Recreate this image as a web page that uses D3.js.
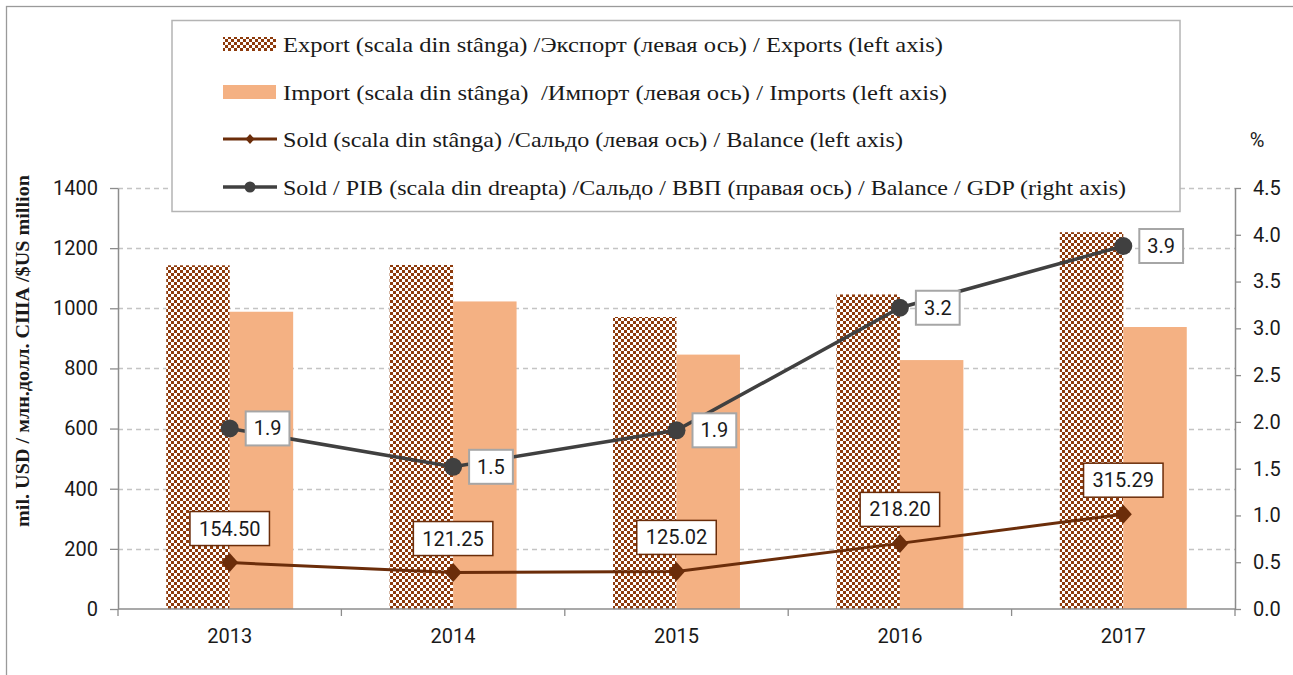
<!DOCTYPE html>
<html>
<head>
<meta charset="utf-8">
<script src="https://cdn.jsdelivr.net/npm/d3@7"></script>
<style>
  html, body { margin: 0; padding: 0; background: #fff; }
  svg { display: block; }
</style>
</head>
<body>
<svg id="chart" width="1293" height="675"></svg>
<script>
// ---------- DATA ----------
const years = ["2013", "2014", "2015", "2016", "2017"];
const exportsVal = [1143, 1144, 971, 1046, 1253];
const importsVal = [988.5, 1022.75, 845.98, 827.8, 937.71];
const balanceVal = [154.50, 121.25, 125.02, 218.20, 315.29];
const balanceGdpVal = [1.93, 1.52, 1.91, 3.22, 3.88];
const leftTicks = [0, 200, 400, 600, 800, 1000, 1200, 1400];
const rightTicks = [0, 0.5, 1.0, 1.5, 2.0, 2.5, 3.0, 3.5, 4.0, 4.5];
const legendLabels = [
  "Export (scala din stânga) /Экспорт (левая ось) / Exports (left axis)",
  "Import (scala din stânga)  /Импорт (левая ось) / Imports (left axis)",
  "Sold (scala din stânga) /Сальдо (левая ось) / Balance (left axis)",
  "Sold / PIB (scala din dreapta) /Сальдо / ВВП (правая ось) / Balance / GDP (right axis)"
];
const yTitle = "mil. USD / млн.долл. США /$US million";
const rightUnit = "%";

// ---------- STYLE ----------
const C = {
  exportBrown: "#8E3B0C",
  importFill: "#F4B183",
  balance: "#6B2D0A",
  ratio: "#404040",
  grid: "#C4C4C4",
  axis: "#8C8C8C",
  text: "#1a1a1a"
};
const numFont = "Roboto, 'Open Sans', sans-serif";
const serifFont = "'Liberation Serif', 'DejaVu Serif', serif";

const svg = d3.select("#chart");
const plot = { left: 118, right: 1235, top: 188, bottom: 609 };

// pattern for export bars
const defs = svg.append("defs");
const pat = defs.append("pattern").attr("id", "chk")
  .attr("patternUnits", "userSpaceOnUse").attr("width", 6).attr("height", 6);
pat.append("rect").attr("width", 6).attr("height", 6).attr("fill", "#fff");
pat.append("rect").attr("x", 0).attr("y", 0).attr("width", 3).attr("height", 3).attr("fill", C.exportBrown);
pat.append("rect").attr("x", 3).attr("y", 3).attr("width", 3).attr("height", 3).attr("fill", C.exportBrown);

// outer frame
svg.append("rect").attr("x", 6.5).attr("y", 6.5).attr("width", 1320).attr("height", 700)
  .attr("fill", "none").attr("stroke", "#9a9a9a").attr("stroke-width", 1.3);

// ---------- SCALES ----------
const x = d3.scaleBand().domain(years).range([plot.left, plot.right]).padding(0);
const xs = d3.scaleBand().domain(["exp", "imp"]).range([0, x.bandwidth()])
  .paddingInner(0).paddingOuter(0.76);
const y = d3.scaleLinear().domain([0, 1400]).range([plot.bottom, plot.top]);
const y2 = d3.scaleLinear().domain([0, 4.5]).range([plot.bottom, plot.top]);

// ---------- GRID ----------
svg.append("g").selectAll("line").data(leftTicks.filter(d => d > 0)).join("line")
  .attr("x1", plot.left).attr("x2", plot.right)
  .attr("y1", d => Math.round(y(d)) + 0.5).attr("y2", d => Math.round(y(d)) + 0.5)
  .attr("stroke", C.grid).attr("stroke-width", 1.3).attr("stroke-dasharray", "5,4");

// ---------- BARS ----------
const rows = years.map((yr, i) => ({ yr, exp: exportsVal[i], imp: importsVal[i], bal: balanceVal[i], r: balanceGdpVal[i] }));
const bars = svg.append("g");
bars.selectAll("rect.exp").data(rows).join("rect").attr("class", "exp")
  .attr("x", d => x(d.yr) + xs("exp")).attr("width", xs.bandwidth())
  .attr("y", d => y(d.exp)).attr("height", d => y(0) - y(d.exp))
  .attr("fill", "url(#chk)");
bars.selectAll("rect.imp").data(rows).join("rect").attr("class", "imp")
  .attr("x", d => x(d.yr) + xs("imp")).attr("width", xs.bandwidth())
  .attr("y", d => y(d.imp)).attr("height", d => y(0) - y(d.imp))
  .attr("fill", C.importFill);

// ---------- AXES ----------
function styleAxis(g) {
  g.selectAll(".domain").attr("stroke", C.axis).attr("stroke-width", 1.5);
  g.selectAll(".tick line").attr("stroke", C.axis).attr("stroke-width", 1.3);
  g.selectAll(".tick text").attr("fill", C.text).style("font-family", numFont).style("font-size", "20px");
}
const gl = svg.append("g").attr("transform", `translate(${plot.left},0)`)
  .call(d3.axisLeft(y).tickValues(leftTicks).tickSize(8).tickPadding(12).tickSizeOuter(0).tickFormat(d3.format("d")));
styleAxis(gl);
const gr = svg.append("g").attr("transform", `translate(${plot.right},0)`)
  .call(d3.axisRight(y2).tickValues(rightTicks).tickSize(6).tickPadding(12).tickSizeOuter(0).tickFormat(d3.format(".1f")));
styleAxis(gr);
const gx = svg.append("g").attr("transform", `translate(0,${plot.bottom})`)
  .call(d3.axisBottom(x).tickSize(0).tickPadding(20));
styleAxis(gx);
gx.select(".domain").attr("d", `M${plot.left},0H${plot.right}`);
// category boundary ticks
const bounds = years.map(d => x(d)).concat([x(years[years.length - 1]) + x.bandwidth()]);
gx.append("g").selectAll("line").data(bounds).join("line")
  .attr("x1", d => d).attr("x2", d => d).attr("y1", 0).attr("y2", 7)
  .attr("stroke", C.axis).attr("stroke-width", 1.3);

// axis titles
svg.append("text").attr("transform", "translate(29,351) rotate(-90)")
  .attr("text-anchor", "middle").attr("fill", C.text)
  .style("font-family", serifFont).style("font-weight", "bold").style("font-size", "19px")
  .attr("textLength", 352).attr("lengthAdjust", "spacingAndGlyphs")
  .text(yTitle);
svg.append("text").attr("x", 1257).attr("y", 147).attr("text-anchor", "middle")
  .attr("fill", C.text).style("font-family", numFont).style("font-size", "20px").text(rightUnit);

// ---------- LINES ----------
const cx = d => x(d.yr) + x.bandwidth() / 2;
svg.append("path").datum(rows)
  .attr("d", d3.line().x(cx).y(d => y(d.bal)))
  .attr("fill", "none").attr("stroke", C.balance).attr("stroke-width", 3);
svg.append("g").selectAll("path").data(rows).join("path")
  .attr("transform", d => `translate(${cx(d)},${y(d.bal)})`)
  .attr("d", "M0,-9.5L8.5,0L0,9.5L-8.5,0Z").attr("fill", C.balance);

svg.append("path").datum(rows)
  .attr("d", d3.line().x(cx).y(d => y2(d.r)))
  .attr("fill", "none").attr("stroke", C.ratio).attr("stroke-width", 3.5);
svg.append("g").selectAll("circle").data(rows).join("circle")
  .attr("cx", cx).attr("cy", d => y2(d.r)).attr("r", 9).attr("fill", C.ratio);

// ---------- DATA LABELS ----------
const fmtBal = d3.format(".2f"), fmtR = d3.format(".1f");
rows.forEach(d => {
  // balance label (above)
  const g = svg.append("g");
  const t = g.append("text").attr("text-anchor", "middle").attr("dominant-baseline", "central")
    .attr("fill", C.text).style("font-family", numFont).style("font-size", "20px")
    .attr("x", cx(d)).attr("y", y(d.bal) - 34).text(fmtBal(d.bal));
  const w = t.node().getComputedTextLength() + 18;
  g.insert("rect", "text").attr("x", cx(d) - w / 2).attr("y", y(d.bal) - 34 - 17)
    .attr("width", w).attr("height", 34).attr("fill", "#fff")
    .attr("stroke", C.balance).attr("stroke-width", 1.5);

  // ratio label (right)
  const g2 = svg.append("g");
  const t2 = g2.append("text").attr("dominant-baseline", "central")
    .attr("fill", C.text).style("font-family", numFont).style("font-size", "20px")
    .attr("x", cx(d) + 16 + 8).attr("y", y2(d.r)).text(fmtR(d.r));
  const w2 = t2.node().getComputedTextLength() + 16;
  g2.insert("rect", "text").attr("x", cx(d) + 16).attr("y", y2(d.r) - 17)
    .attr("width", w2).attr("height", 34).attr("fill", "#fff")
    .attr("stroke", "#a6a6a6").attr("stroke-width", 2);
});

// ---------- LEGEND ----------
const lg = svg.append("g");
lg.append("rect").attr("x", 172).attr("y", 20.5).attr("width", 1008).attr("height", 191)
  .attr("fill", "#fff").attr("stroke", "#b4b4b4").attr("stroke-width", 1.5);
const rowY = [44, 92, 139, 187];
const textW = [660, 664, 620, 843];
lg.append("rect").attr("x", 223).attr("y", rowY[0] - 7).attr("width", 53).attr("height", 14).attr("fill", "url(#chk)");
lg.append("rect").attr("x", 223).attr("y", rowY[1] - 7).attr("width", 53).attr("height", 14).attr("fill", C.importFill);
lg.append("line").attr("x1", 223).attr("x2", 277).attr("y1", rowY[2]).attr("y2", rowY[2])
  .attr("stroke", C.balance).attr("stroke-width", 3);
lg.append("path").attr("transform", `translate(250,${rowY[2]})`).attr("d", "M0,-5L4.5,0L0,5L-4.5,0Z").attr("fill", C.balance);
lg.append("line").attr("x1", 223).attr("x2", 277).attr("y1", rowY[3]).attr("y2", rowY[3])
  .attr("stroke", C.ratio).attr("stroke-width", 3.5);
lg.append("circle").attr("cx", 250).attr("cy", rowY[3]).attr("r", 5.5).attr("fill", C.ratio);
legendLabels.forEach((s, i) => {
  lg.append("text").attr("x", 283).attr("y", rowY[i]).attr("dominant-baseline", "central")
    .attr("fill", C.text).style("font-family", serifFont).style("font-size", "22px")
    .style("white-space", "pre").attr("xml:space", "preserve")
    .attr("textLength", textW[i]).attr("lengthAdjust", "spacingAndGlyphs")
    .text(s);
});
</script>
</body>
</html>
